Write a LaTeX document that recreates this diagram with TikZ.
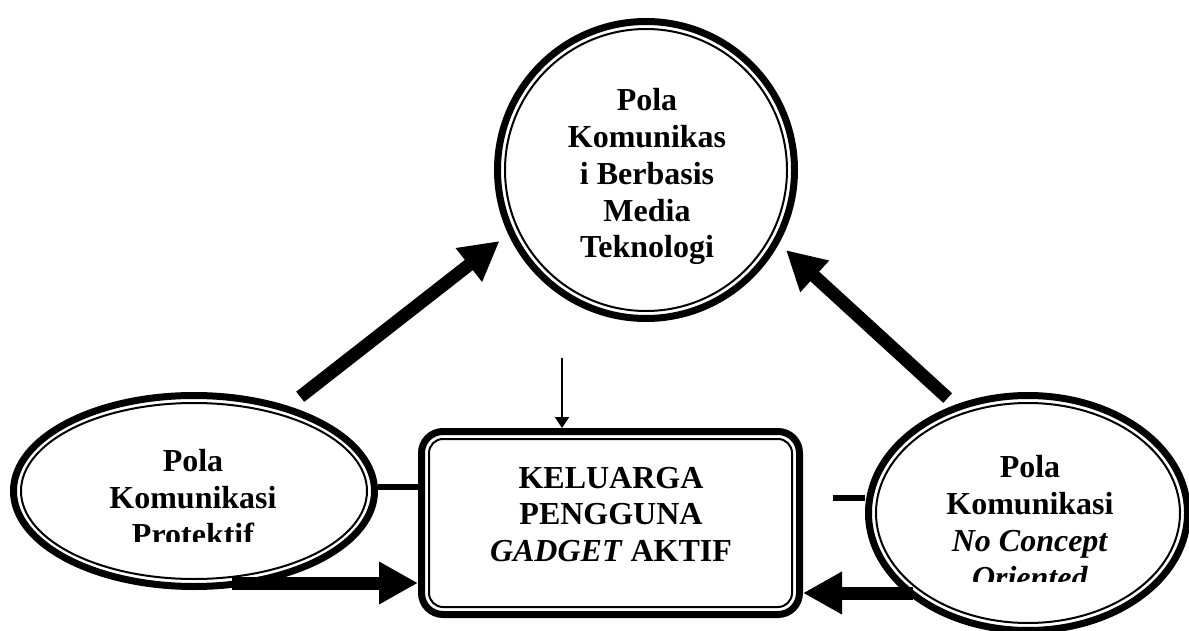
\documentclass[tikz,border=0pt]{standalone}
\usepackage{fontspec}
\setmainfont{Liberation Serif}
\usetikzlibrary{arrows.meta,shapes.geometric,calc}
\tikzset{
  outerline/.style={draw=black, line width=7pt, inner sep=0pt},
  innerline/.style={draw=black, line width=2pt, inner sep=0pt},
  txt/.style={inner sep=0pt, align=center, font=\fontsize{32}{36.8}\selectfont\bfseries},
  bigarrow/.style={line width=13pt, -{Triangle[length=39pt,width=40pt]}},
  thinarrow/.style={line width=2pt, -{Triangle[length=11pt,width=14pt]}},
  link/.style={line width=5.5pt}
}
\begin{document}
\begin{tikzpicture}[x=1pt,y=-1pt]
\useasboundingbox (0,0) rectangle (1189,631);
% top circle
\node[outerline, circle, minimum size=297pt] (C) at (646,170) {};
\node[innerline, circle, minimum size=282pt] (Ci) at (646,170) {};
\node[txt, anchor=north] (Ct) at (647,88.3) {Pola\\Komunikas\\i Berbasis\\Media\\Teknologi};
% left ellipse
\node[outerline, ellipse, minimum width=361pt, minimum height=191pt] (L) at (194,491) {};
\node[innerline, ellipse, minimum width=346pt, minimum height=176pt] (Li) at (194,491) {};
\begin{scope}
\clip (0,0) rectangle (1189,541);
\node[txt, anchor=north] (Lt) at (193,449) {Pola\\Komunikasi\\Protektif};
\end{scope}
% right ellipse
\node[outerline, ellipse, minimum width=319pt, minimum height=235pt] (R) at (1028,513) {};
\node[innerline, ellipse, minimum width=304pt, minimum height=220pt] (Ri) at (1028,513) {};
\begin{scope}
\clip (0,0) rectangle (1189,581);
\node[txt, anchor=north] (Rt) at (1030,455.3) {Pola\\Komunikasi\\\textit{No Concept}\\\textit{Oriented}};
\end{scope}
% center box
\node[outerline, rectangle, rounded corners=21.5pt, minimum width=378pt, minimum height=183pt] (B) at (610.5,523) {};
\node[innerline, rectangle, rounded corners=14pt, minimum width=363pt, minimum height=168pt] (Bi) at (610.5,523) {};
\node[txt, anchor=north] (Bt) at (611,466.8) {KELUARGA\\PENGGUNA\\\textit{GADGET} AKTIF};
% connectors
\draw[bigarrow, shorten <=15pt, shorten >=11pt] (L.42) -- (C.205.4);
\draw[bigarrow, shorten <=10pt, shorten >=9.5pt] (R.124.2) -- (C.331);
\coordinate (t3) at (562,358);
\draw[thinarrow] (t3) -- (t3 |- B.north);
\draw[link] ([yshift=4pt]L.east) -- ([yshift=4pt]L.east -| B.west);
\coordinate (t6) at (833,498);
\draw[link] (t6) -- (t6 -| R.west);
\coordinate (t5) at (232,583);
\draw[bigarrow] (t5) -- (t5 -| B.west);
\coordinate (t7) at (913,593);
\draw[bigarrow] (t7) -- (t7 -| B.east);
\end{tikzpicture}
\end{document}
